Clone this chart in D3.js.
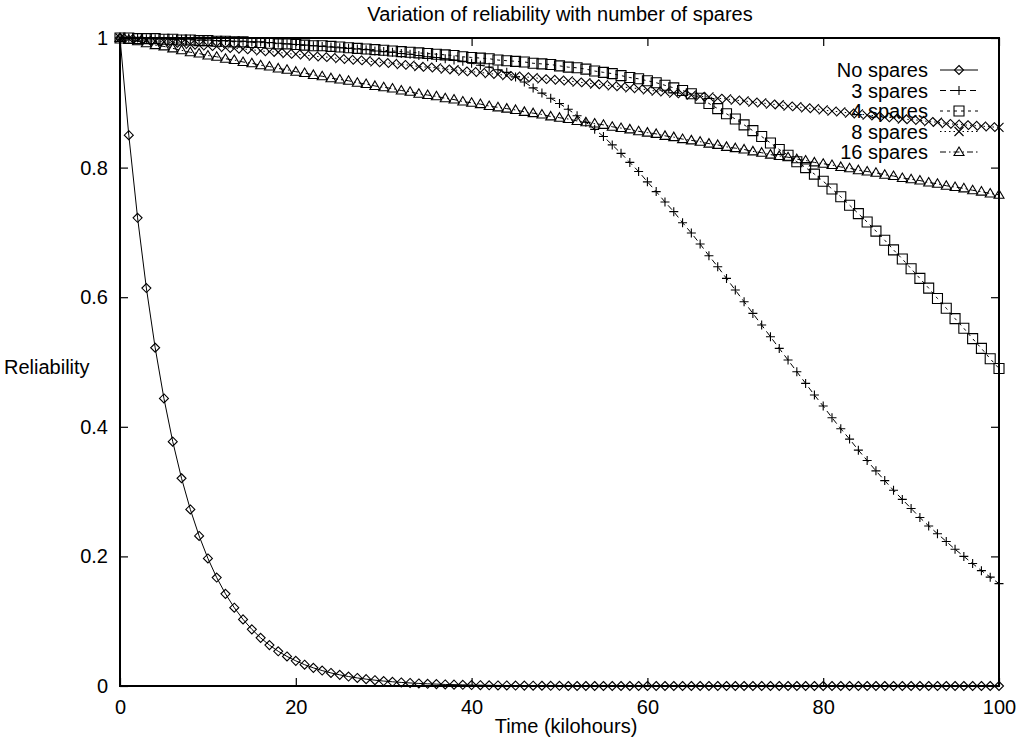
<!DOCTYPE html>
<html>
<head>
<meta charset="utf-8">
<script src="https://cdn.jsdelivr.net/npm/d3@7"></script>
<style>
  body { margin: 0; background: #fff; }
  svg { display: block; font-family: "Liberation Sans", Arial, sans-serif; }
</style>
</head>
<body>
<svg id="chart" width="1018" height="739"></svg>
<script>
// time axis, kilohours
const times = [0,1,2,3,4,5,6,7,8,9,10,11,12,13,14,15,16,17,18,19,20,21,22,23,24,25,26,27,28,29,30,
  31,32,33,34,35,36,37,38,39,40,41,42,43,44,45,46,47,48,49,50,51,52,53,54,55,56,57,58,59,60,
  61,62,63,64,65,66,67,68,69,70,71,72,73,74,75,76,77,78,79,80,81,82,83,84,85,86,87,88,89,90,
  91,92,93,94,95,96,97,98,99,100];

const noSpares = [1,0.85,0.7225,0.6141,0.522,0.4437,0.3771,0.3206,0.2725,0.2316,0.1969,
  0.1673,0.1422,0.1209,0.1028,0.0874,0.0743,0.0631,0.0536,0.0456,0.0388,
  0.0329,0.028,0.0238,0.0202,0.0172,0.0146,0.0124,0.0106,0.009,0.0076,
  0.0065,0.0055,0.0047,0.004,0.0034,0.0029,0.0024,0.0021,0.0018,0.0015,
  0.0013,0.0011,0.0009,0.0008,0.0007,0.0006,0.0005,0.0004,0.0003,0.0003,
  0,0,0,0,0,0,0,0,0,0, 0,0,0,0,0,0,0,0,0,0, 0,0,0,0,0,0,0,0,0,0,
  0,0,0,0,0,0,0,0,0,0, 0,0,0,0,0,0,0,0,0,0];

const spares3 = [1,1,1,0.999,0.999,0.999,0.998,0.998,0.998,0.997,0.997,
  0.996,0.996,0.995,0.995,0.994,0.994,0.993,0.992,0.991,0.990,
  0.989,0.988,0.987,0.986,0.985,0.984,0.983,0.982,0.980,0.979,
  0.978,0.976,0.975,0.973,0.971,0.970,0.968,0.966,0.964,0.961,
  0.958,0.955,0.951,0.947,0.940,0.932,0.923,0.915,0.907,0.899,
  0.890,0.880,0.870,0.859,0.848,0.835,0.822,0.808,0.794,0.778,
  0.763,0.747,0.732,0.715,0.699,0.682,0.664,0.647,0.629,0.611,
  0.593,0.575,0.557,0.539,0.521,0.503,0.485,0.467,0.449,0.432,
  0.414,0.397,0.381,0.364,0.348,0.332,0.317,0.302,0.288,0.274,
  0.260,0.247,0.235,0.223,0.211,0.200,0.189,0.178,0.168,0.158];

const spares4 = [1,1,0.999,0.999,0.999,0.998,0.998,0.997,0.997,0.996,0.996,
  0.995,0.995,0.994,0.994,0.993,0.993,0.992,0.991,0.991,0.990,
  0.989,0.988,0.988,0.987,0.986,0.985,0.984,0.983,0.982,0.981,
  0.980,0.979,0.978,0.977,0.976,0.975,0.974,0.973,0.971,0.970,
  0.969,0.968,0.966,0.965,0.964,0.963,0.961,0.960,0.959,0.957,
  0.955,0.954,0.952,0.949,0.947,0.945,0.942,0.939,0.937,0.934,
  0.931,0.927,0.923,0.919,0.914,0.907,0.899,0.891,0.883,0.875,
  0.866,0.857,0.848,0.838,0.828,0.819,0.809,0.800,0.790,0.779,
  0.767,0.755,0.742,0.729,0.716,0.702,0.688,0.673,0.659,0.644,
  0.629,0.614,0.598,0.583,0.567,0.552,0.536,0.521,0.505,0.490];

const spares8 = [1,0.999,0.998,0.996,0.995,0.994,0.993,0.992,0.990,0.989,0.988,
  0.987,0.985,0.984,0.983,0.982,0.980,0.979,0.978,0.976,0.975,
  0.974,0.972,0.971,0.970,0.968,0.967,0.966,0.965,0.963,0.962,
  0.961,0.959,0.958,0.956,0.955,0.954,0.952,0.951,0.949,0.948,
  0.947,0.945,0.944,0.942,0.941,0.940,0.939,0.937,0.936,0.935,
  0.934,0.932,0.931,0.929,0.928,0.926,0.925,0.923,0.922,0.920,
  0.918,0.917,0.915,0.914,0.912,0.910,0.909,0.907,0.906,0.904,
  0.903,0.901,0.900,0.898,0.897,0.895,0.894,0.892,0.891,0.889,
  0.887,0.886,0.884,0.883,0.881,0.880,0.878,0.877,0.875,0.874,
  0.873,0.871,0.870,0.868,0.867,0.866,0.865,0.864,0.863,0.862];

const spares16 = [1,0.997,0.995,0.992,0.989,0.987,0.984,0.981,0.978,0.976,0.973,
  0.971,0.968,0.966,0.963,0.961,0.958,0.956,0.953,0.951,0.948,
  0.946,0.943,0.941,0.938,0.936,0.934,0.931,0.929,0.926,0.924,
  0.922,0.919,0.917,0.914,0.912,0.910,0.907,0.905,0.902,0.900,
  0.898,0.895,0.893,0.891,0.889,0.886,0.884,0.882,0.879,0.877,
  0.875,0.872,0.870,0.868,0.866,0.863,0.861,0.859,0.856,0.854,
  0.852,0.849,0.847,0.844,0.842,0.840,0.837,0.835,0.832,0.830,
  0.828,0.825,0.823,0.820,0.818,0.816,0.813,0.811,0.808,0.806,
  0.804,0.801,0.799,0.796,0.794,0.792,0.789,0.787,0.784,0.782,
  0.780,0.777,0.775,0.772,0.770,0.768,0.765,0.763,0.760,0.758];

const seriesNames = ["No spares", "3 spares", "4 spares", "8 spares", "16 spares"];
const xTicks = [0, 20, 40, 60, 80, 100];
const yTicks = [0, 0.2, 0.4, 0.6, 0.8, 1];

// line style + marker per series (gnuplot point types)
const styles = [
  {dash: null,          marker: "diamond"},
  {dash: "6,4",         marker: "plus"},
  {dash: "3,4",         marker: "square"},
  {dash: "1.5,3",       marker: "cross"},
  {dash: "6,3,1.5,3",   marker: "triangle"}
];

const series = [noSpares, spares3, spares4, spares8, spares16].map((vals, i) => ({
  name: seriesNames[i],
  style: styles[i],
  points: times.map((t, j) => ({t: t, v: vals[j]}))
}));

const svg = d3.select("#chart");
const plotLeft = 120, plotRight = 999, plotTop = 38, plotBottom = 686;

const x = d3.scaleLinear().domain([0, 100]).range([plotLeft, plotRight]);
const y = d3.scaleLinear().domain([0, 1]).range([plotBottom, plotTop]);

// marker shapes, centred on 0,0
function markerPath(kind) {
  const r = 4.5;
  switch (kind) {
    case "diamond":  return `M0,${-r}L${r},0L0,${r}L${-r},0Z`;
    case "plus":     return `M${-r},0H${r}M0,${-r}V${r}`;
    case "square":   return `M-5,-5H5V5H-5Z`;
    case "cross":    return `M${-r},${-r}L${r},${r}M${-r},${r}L${r},${-r}`;
    case "triangle": return `M0,-5L5,3.5H-5Z`;
  }
}

// axes, ticks pointing inward and mirrored
const fontSize = 20;
svg.append("g")
    .attr("transform", `translate(0,${plotBottom})`)
    .call(d3.axisBottom(x).tickValues(xTicks).tickSizeInner(-8).tickSizeOuter(0).tickPadding(14).tickFormat(d3.format("d")))
    .call(g => g.select(".domain").remove());
svg.append("g")
    .attr("transform", `translate(0,${plotTop})`)
    .call(d3.axisTop(x).tickValues(xTicks).tickSizeInner(-8).tickSizeOuter(0).tickFormat(""))
    .call(g => g.select(".domain").remove());
svg.append("g")
    .attr("transform", `translate(${plotLeft},0)`)
    .call(d3.axisLeft(y).tickValues(yTicks).tickSizeInner(-8).tickSizeOuter(0).tickPadding(12).tickFormat(d => String(+d.toFixed(1))))
    .call(g => g.select(".domain").remove());
svg.append("g")
    .attr("transform", `translate(${plotRight},0)`)
    .call(d3.axisRight(y).tickValues(yTicks).tickSizeInner(-8).tickSizeOuter(0).tickFormat(""))
    .call(g => g.select(".domain").remove());

svg.selectAll(".tick line").attr("stroke", "#000").attr("stroke-width", 1.2);
svg.selectAll(".tick text")
    .attr("font-family", "Liberation Sans, Arial, sans-serif")
    .attr("font-size", fontSize)
    .attr("fill", "#000");

// series lines and markers
const line = d3.line().x(d => x(d.t)).y(d => y(d.v));

series.forEach(s => {
  svg.append("path")
      .datum(s.points)
      .attr("d", line)
      .attr("fill", "none")
      .attr("stroke", "#000")
      .attr("stroke-width", 1)
      .attr("stroke-dasharray", s.style.dash);

  svg.append("g").selectAll("path")
    .data(s.points)
    .join("path")
      .attr("transform", d => `translate(${x(d.t)},${y(d.v)})`)
      .attr("d", markerPath(s.style.marker))
      .attr("fill", "none")
      .attr("stroke", "#000")
      .attr("stroke-width", 1.1);
});

// frame
svg.append("rect")
    .attr("x", plotLeft).attr("y", plotTop)
    .attr("width", plotRight - plotLeft).attr("height", plotBottom - plotTop)
    .attr("fill", "none")
    .attr("stroke", "#000")
    .attr("stroke-width", 2);

// legend
const legend = svg.append("g");
series.forEach((s, i) => {
  const ly = 70 + i * 20.5;
  legend.append("text")
      .attr("x", 928).attr("y", ly)
      .attr("dy", "0.35em")
      .attr("text-anchor", "end")
      .attr("font-size", fontSize)
      .text(s.name);
  legend.append("line")
      .attr("x1", 940).attr("x2", 978)
      .attr("y1", ly).attr("y2", ly)
      .attr("stroke", "#000")
      .attr("stroke-width", 1)
      .attr("stroke-dasharray", s.style.dash);
  legend.append("path")
      .attr("transform", `translate(959,${ly})`)
      .attr("d", markerPath(s.style.marker))
      .attr("fill", "none")
      .attr("stroke", "#000")
      .attr("stroke-width", 1.1);
});

// titles
svg.append("text")
    .attr("x", 560).attr("y", 21)
    .attr("text-anchor", "middle")
    .attr("font-size", fontSize)
    .text("Variation of reliability with number of spares");

svg.append("text")
    .attr("x", 566).attr("y", 733)
    .attr("text-anchor", "middle")
    .attr("font-size", fontSize)
    .text("Time (kilohours)");

svg.append("text")
    .attr("x", 4).attr("y", 374)
    .attr("text-anchor", "start")
    .attr("font-size", fontSize)
    .text("Reliability");
</script>
</body>
</html>
